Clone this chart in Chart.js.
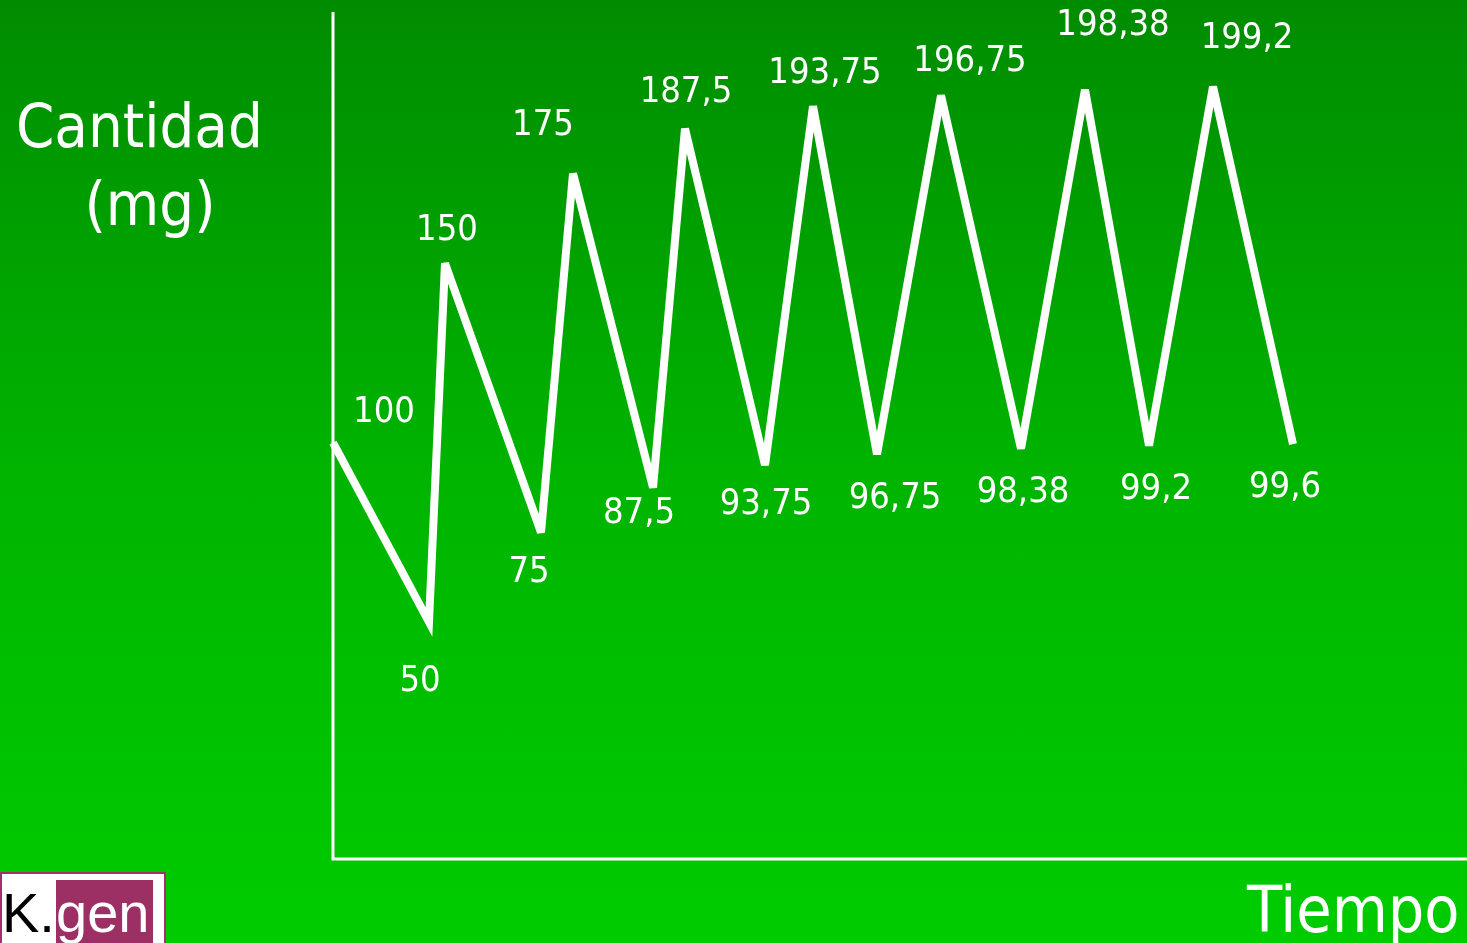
<!DOCTYPE html>
<html>
<head>
<meta charset="utf-8">
<script src="https://cdn.jsdelivr.net/npm/chart.js@4/dist/chart.umd.min.js"></script>
<style>
  html, body { margin: 0; padding: 0; width: 1467px; height: 943px; overflow: hidden; }
  body { background: linear-gradient(to bottom, #008c00 0%, #00b400 50%, #00cc00 100%); position: relative;
         font-family: "DejaVu Sans Condensed", "DejaVu Sans", sans-serif; }
  #wrap { position: absolute; left: 0; top: 0; width: 1467px; height: 943px; }
  .t { position: absolute; color: #fff; white-space: nowrap; line-height: 1; }
  #logo { position: absolute; left: 0; top: 872px; width: 166px; height: 80px; background: #fff;
          border: 2px solid #a3306a; box-sizing: border-box; }
  #logoBox { position: absolute; left: 56px; top: 880px; width: 97px; height: 70px; background: #9c2f63; }
  .lg { position: absolute; font-family: "Liberation Sans", Arial, sans-serif; font-size: 56px; line-height: 1; }
</style>
</head>
<body>
<div id="wrap"><canvas id="c" width="1467" height="943"></canvas></div>
<div class="t" style="left:16px; top:95px; font-size:61px;">Cantidad</div>
<div class="t" style="left:50px; width:200px; text-align:center; top:173px; font-size:61px;">(mg)</div>
<div class="t" style="left:1247px; top:878px; font-size:64px;">Tiempo</div>
<div id="logo"></div>
<div id="logoBox"></div>
<div class="lg" style="left:2px; top:885px; color:#000;">K.</div>
<div class="lg" style="left:56px; top:885px; color:#fff;">gen</div>
<script>
// Time (arbitrary units) and amount (mg)
const times   = [0, 6, 7, 13, 15, 20, 22, 27, 30, 34, 38, 43, 47, 51, 55, 60];
const amounts = [100, 50, 150, 75, 175, 87.5, 187.5, 93.75, 193.75, 96.75, 196.75, 98.38, 198.38, 99.2, 199.2, 99.6];
const pointLabels = ['100', '50', '150', '75', '175', '87,5', '187,5', '93,75', '193,75', '96,75', '196,75', '98,38', '198,38', '99,2', '199,2', '99,6'];

// label placement offsets (px) relative to each point
const labelDX = [51, -9, 2, -12, -30, -14, 1, 1, 12, 18, 29, 2, 28, 7, 34, -8];
const labelDY = [-30, 60, -33, 40, -48, 26, -36, 40, -33, 44, -34, 44, -64, 44, -48, 44];

const pts = times.map((t, i) => ({ x: t, y: amounts[i] }));

const axesPlugin = {
  id: 'axesLines',
  beforeDatasetsDraw(chart) {
    const { ctx, chartArea } = chart;
    ctx.save();
    ctx.strokeStyle = '#ffffff';
    ctx.lineWidth = 3;
    ctx.beginPath();
    ctx.moveTo(chartArea.left, chartArea.top);
    ctx.lineTo(chartArea.left, chartArea.bottom);
    ctx.lineTo(chartArea.right, chartArea.bottom);
    ctx.stroke();
    ctx.restore();
    ctx.miterLimit = 4;
  }
};

const labelPlugin = {
  id: 'pointLabels',
  afterDatasetsDraw(chart) {
    const { ctx } = chart;
    const meta = chart.getDatasetMeta(0);
    ctx.save();
    ctx.fillStyle = '#ffffff';
    ctx.font = '36px "DejaVu Sans Condensed", "DejaVu Sans", sans-serif';
    ctx.textAlign = 'center';
    ctx.textBaseline = 'middle';
    meta.data.forEach((el, i) => {
      ctx.fillText(pointLabels[i], el.x + labelDX[i], el.y + labelDY[i]);
    });
    ctx.restore();
  }
};

new Chart(document.getElementById('c'), {
  type: 'line',
  data: {
    datasets: [{
      data: pts,
      borderColor: '#ffffff',
      borderWidth: 8,
      borderJoinStyle: 'miter',
      borderCapStyle: 'butt',
      pointRadius: 0,
      tension: 0,
      fill: false
    }]
  },
  options: {
    responsive: false,
    animation: false,
    clip: false,
    layout: { padding: { left: 333, top: 12, right: 0, bottom: 84 } },
    plugins: { legend: { display: false }, tooltip: { enabled: false }, title: { display: false } },
    scales: {
      x: { type: 'linear', display: false, min: 0, max: 70.875 },
      y: { type: 'linear', display: false, min: -16, max: 220 }
    }
  },
  plugins: [axesPlugin, labelPlugin]
});
</script>
</body>
</html>
